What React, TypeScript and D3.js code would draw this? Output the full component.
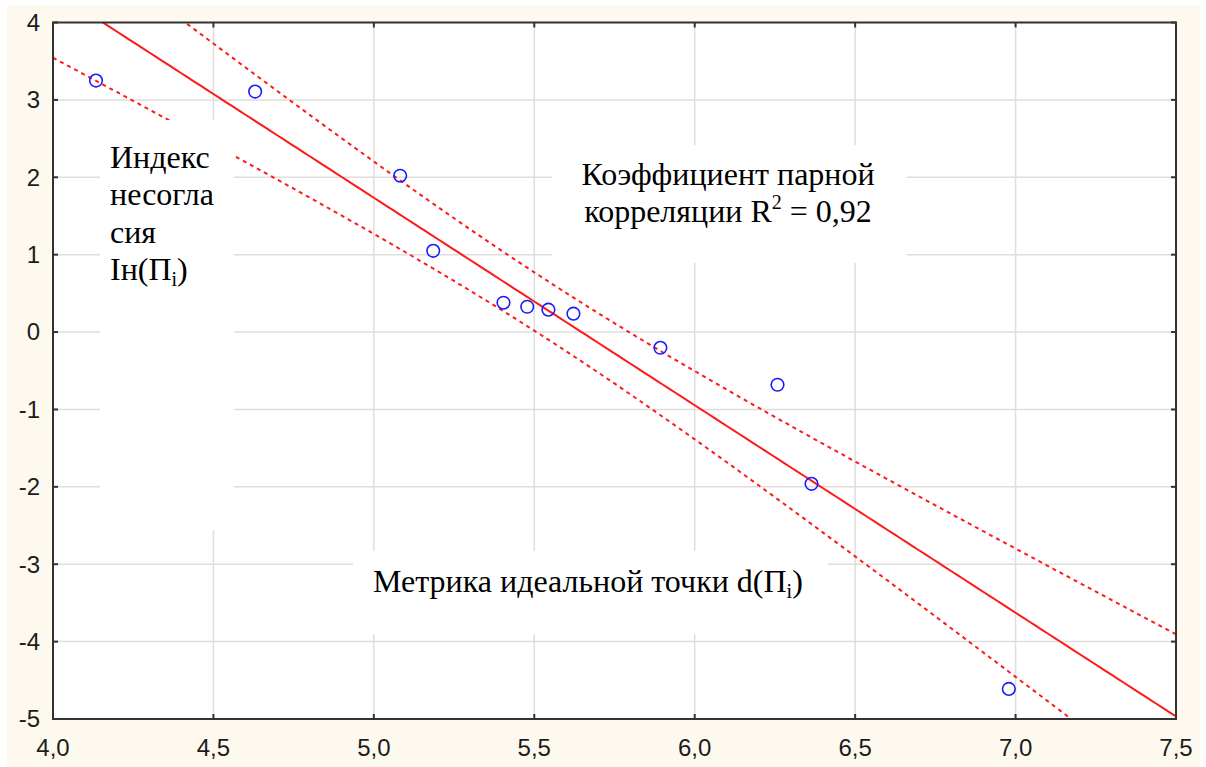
import React from 'react';
import * as d3 from 'd3';

// scatter points
const xValues = [4.134, 4.63, 5.082, 5.185, 5.404, 5.478, 5.544, 5.622, 5.893, 6.258, 6.364, 6.979];
const yValues = [3.25, 3.108, 2.02, 1.05, 0.379, 0.327, 0.289, 0.237, -0.203, -0.681, -1.961, -4.612];

const xTicks = [4.0, 4.5, 5.0, 5.5, 6.0, 6.5, 7.0, 7.5];
const yTicks = [-5, -4, -3, -2, -1, 0, 1, 2, 3, 4];
const xTickLabels = ['4,0', '4,5', '5,0', '5,5', '6,0', '6,5', '7,0', '7,5'];

const yTitleLines = ['Индекс', 'несогла', 'сия'];
const xTitle = 'Метрика идеальной точки d(П';
const r2Lines = ['Коэффициент парной', 'корреляции R'];
const r2Value = '0,92';

const tCrit = 2.228; // t(0.975, df = 10)

const W = 1206;
const H = 767;
const plot = { left: 53, right: 1176, top: 22.5, bottom: 719 };

const serif = '"Liberation Serif", "Times New Roman", serif';
const sans = '"Liberation Sans", Arial, sans-serif';

const App = () => {
    const x = d3.scaleLinear().domain([4, 7.5]).range([plot.left, plot.right]);
    const y = d3.scaleLinear().domain([-5, 4]).range([plot.bottom, plot.top]);

    // linear fit + 95% confidence band of the mean
    const n = xValues.length;
    const xm = d3.mean(xValues) as number;
    const ym = d3.mean(yValues) as number;
    const sxx = d3.sum(xValues, (v) => (v - xm) ** 2);
    const sxy = d3.sum(xValues, (v, i) => (v - xm) * (yValues[i] - ym));
    const b = sxy / sxx;
    const a = ym - b * xm;
    const sse = d3.sum(xValues, (v, i) => (yValues[i] - (a + b * v)) ** 2);
    const s = Math.sqrt(sse / (n - 2));
    const half = (v: number) => tCrit * s * Math.sqrt(1 / n + (v - xm) ** 2 / sxx);

    const grid = d3.range(4, 7.5001, 0.02);
    const fitLine = d3.line<number>().x((v) => x(v)).y((v) => y(a + b * v));
    const upper = d3.line<number>().x((v) => x(v)).y((v) => y(a + b * v + half(v)));
    const lower = d3.line<number>().x((v) => x(v)).y((v) => y(a + b * v - half(v)));

    const gridColor = '#dedede';
    const axisColor = '#333';
    const red = '#ff1a1a';

    return (
        <svg width={W} height={H} style={{ position: 'absolute', left: 0, top: 0 }}>
            <rect x={0} y={0} width={W} height={H} fill="#ffffff" />
            <rect x={7} y={5} width={1193} height={H - 5} fill="#fef9ee" />
            <defs>
                <clipPath id="plotClip">
                    <rect x={plot.left} y={plot.top} width={plot.right - plot.left} height={plot.bottom - plot.top} />
                </clipPath>
            </defs>
            <rect x={plot.left} y={plot.top} width={plot.right - plot.left} height={plot.bottom - plot.top} fill="#fff" />

            {/* grid */}
            {xTicks.slice(1, -1).map((t) => (
                <line key={'gx' + t} x1={x(t)} x2={x(t)} y1={plot.top} y2={plot.bottom} stroke={gridColor} strokeWidth={1.5} />
            ))}
            {yTicks.slice(1, -1).map((t) => (
                <line key={'gy' + t} x1={plot.left} x2={plot.right} y1={y(t)} y2={y(t)} stroke={gridColor} strokeWidth={1.5} />
            ))}

            {/* fit and confidence band */}
            <g clipPath="url(#plotClip)">
                <path d={fitLine(grid) as string} fill="none" stroke={red} strokeWidth={2} />
                <path d={upper(grid) as string} fill="none" stroke={red} strokeWidth={2} strokeDasharray="4,4" />
                <path d={lower(grid) as string} fill="none" stroke={red} strokeWidth={2} strokeDasharray="4,4" />
            </g>

            {xValues.map((v, i) => (
                <circle key={'p' + i} cx={x(v)} cy={y(yValues[i])} r={6.3} fill="none" stroke="#1a1aff" strokeWidth={1.6} />
            ))}

            {/* annotation boxes */}
            <rect x={100} y={120} width={134} height={410} fill="#fff" />
            <rect x={353} y={551} width={475} height={83} fill="#fff" />
            <rect x={552} y={145} width={355} height={118} fill="#fff" />

            <g fontFamily={serif} fontSize={32} fill="#000">
                {yTitleLines.map((t, i) => (
                    <text key={t} x={110} y={168 + i * 37.3}>{t}</text>
                ))}
                <text x={110} y={280}>
                    Iн(П<tspan fontSize={20} dy={6}>i</tspan><tspan dy={-6}>)</tspan>
                </text>

                <text x={728} y={185} textAnchor="middle">{r2Lines[0]}</text>
                <text x={728} y={222} textAnchor="middle">
                    {r2Lines[1]}<tspan fontSize={20} dy={-13}>2</tspan><tspan dy={13}>{' = ' + r2Value}</tspan>
                </text>

                <text x={373} y={592}>
                    {xTitle}<tspan fontSize={20} dy={6}>i</tspan><tspan dy={-6}>)</tspan>
                </text>
            </g>

            {/* frame and inward ticks */}
            <rect x={plot.left} y={plot.top} width={plot.right - plot.left} height={plot.bottom - plot.top} fill="none" stroke={axisColor} strokeWidth={2} />
            {xTicks.map((t) => (
                <g key={'tx' + t}>
                    <line x1={x(t)} x2={x(t)} y1={plot.bottom} y2={plot.bottom - 5} stroke={axisColor} strokeWidth={2} />
                    <line x1={x(t)} x2={x(t)} y1={plot.top} y2={plot.top + 5} stroke={axisColor} strokeWidth={2} />
                </g>
            ))}
            {yTicks.map((t) => (
                <g key={'ty' + t}>
                    <line x1={plot.left} x2={plot.left + 5} y1={y(t)} y2={y(t)} stroke={axisColor} strokeWidth={2} />
                    <line x1={plot.right} x2={plot.right - 5} y1={y(t)} y2={y(t)} stroke={axisColor} strokeWidth={2} />
                </g>
            ))}

            {/* tick labels */}
            <g fontFamily={sans} fontSize={24} fill="#1c1c1c">
                {xTicks.map((t, i) => (
                    <text key={'lx' + t} x={x(t)} y={756} textAnchor="middle">{xTickLabels[i]}</text>
                ))}
                {yTicks.map((t) => (
                    <text key={'ly' + t} x={40} y={y(t)} dy="0.35em" textAnchor="end">{String(t)}</text>
                ))}
            </g>
        </svg>
    );
};

export default App;
